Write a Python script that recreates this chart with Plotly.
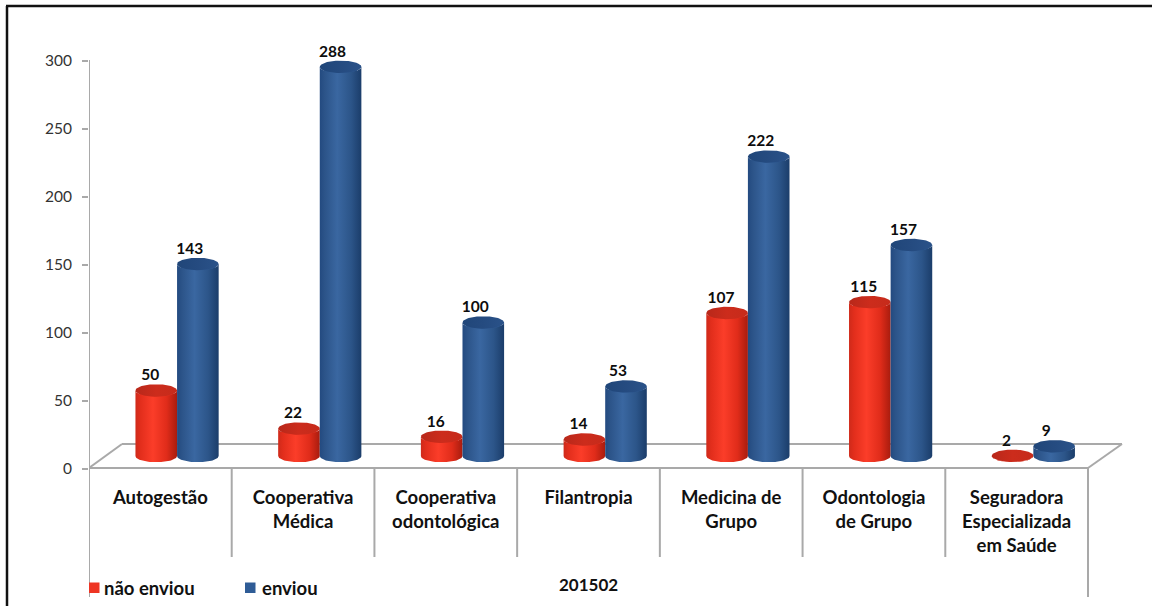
import numpy as np
import plotly.graph_objects as go

categories = ["Autogestão", "Cooperativa<br>Médica", "Cooperativa<br>odontológica",
              "Filantropia", "Medicina de<br>Grupo", "Odontologia<br>de Grupo",
              "Seguradora<br>Especializada<br>em Saúde"]
nao_enviou = [50, 22, 16, 14, 107, 115, 2]
enviou = [143, 288, 100, 53, 222, 157, 9]
y_ticks = [0, 50, 100, 150, 200, 250, 300]
group_label = "201502"
legend_names = ["não enviou", "enviou"]

W, H = 1152, 606
L, R, T, B = 89, 1130, 30, 597      # plot area in page pixels
Y0_PX = 469
PX_PER_UNIT = 408 / 300
CAT_PX = (1088 - L) / 7
xu = lambda px: px / CAT_PX                 # pixels -> x units (length)
yu = lambda px: px / PX_PER_UNIT            # pixels -> y units (length)
x_of = lambda px: (px - L) / CAT_PX         # page px -> x value
y_of = lambda px: (Y0_PX - px) / PX_PER_UNIT
px_x = lambda px: (px - L) / (R - L)
px_y = lambda px: (B - px) / (B - T)

BASE = yu(10.5)           # 3D floor lift of the cylinder tops
FOOT = yu(13)             # 3D floor lift of the cylinder feet
CAP = yu(6.2)             # half height of the ellipses
HALF = xu(20.8)           # half width of a cylinder
OFFS = {"red": xu(-4.1), "blue": xu(37.5)}
RED = "#e8301f"
BLUE = "#2f5c96"
RED_BODY = [[0, "#cf2a1a"], [0.12, "#e22e1c"], [0.42, "#fb3d29"], [0.75, "#e02c1a"], [1, "#a81c0e"]]
BLUE_BODY = [[0, "#234a80"], [0.12, "#2c5489"], [0.42, "#3a67a1"], [0.75, "#2c5589"], [1, "#1b3d6a"]]
RED_CAP = [[0, "#b8281a"], [0.5, "#cc2c1c"], [1, "#c62b1b"]]
BLUE_CAP = [[0, "#204679"], [0.5, "#254b80"], [1, "#2a5289"]]

xpos = np.arange(len(categories)) + 0.5
fig = go.Figure()

for name, vals, col, key in [(legend_names[0], nao_enviou, RED, "red"), (legend_names[1], enviou, BLUE, "blue")]:
    fig.add_trace(go.Bar(x=xpos + OFFS[key], y=vals, base=[BASE] * len(vals), width=2 * HALF * 0.8,
                         name=name, marker=dict(color=col, line_width=0), showlegend=False))

t = np.linspace(0, np.pi, 41)
def cylinder(cx, v, body, cap):
    top = BASE + v
    # body: lower half of the foot ellipse, then lower half of the top ellipse
    xs = np.r_[cx - HALF * np.cos(t), cx + HALF * np.cos(t)]
    ys = np.r_[FOOT - CAP * np.sin(t), top - CAP * np.sin(t)]
    fig.add_trace(go.Scatter(x=xs, y=ys, mode="lines", fill="toself", line=dict(width=0),
                             fillgradient=dict(type="horizontal", colorscale=body, start=cx - HALF, stop=cx + HALF),
                             hoverinfo="skip", showlegend=False))
    tt = np.linspace(0, 2 * np.pi, 81)
    fig.add_trace(go.Scatter(x=cx + HALF * np.cos(tt), y=top + CAP * np.sin(tt), mode="lines", fill="toself",
                             line=dict(width=0),
                             fillgradient=dict(type="horizontal", colorscale=cap, start=cx - HALF, stop=cx + HALF),
                             hoverinfo="skip", showlegend=False))

for i, v in enumerate(nao_enviou):
    cylinder(xpos[i] + OFFS["red"], v, RED_BODY, RED_CAP)
for i, v in enumerate(enviou):
    cylinder(xpos[i] + OFFS["blue"], v, BLUE_BODY, BLUE_CAP)

LABEL_LIFT = yu(14)
for vals, key, dx in [(nao_enviou, "red", -6), (enviou, "blue", -8)]:
    fig.add_trace(go.Scatter(x=xpos + OFFS[key] + xu(dx), y=[v + BASE + LABEL_LIFT for v in vals],
                             mode="text", text=[str(v) for v in vals], textposition="middle center",
                             textfont=dict(family="Lato", size=15.5, color="#0d0d0d", weight="bold"),
                             hoverinfo="skip", showlegend=False))

GREY = "#a9a9a9"
shapes = []
def line(x0, y0, x1, y1, w=2):
    shapes.append(dict(type="line", xref="x", yref="y", x0=x_of(x0), y0=y_of(y0), x1=x_of(x1), y1=y_of(y1),
                       line=dict(color=GREY, width=w), layer="below"))
# value axis line
line(89, 60, 89, 597)
# 3D floor
line(89, 468, 1088, 468)
line(89, 468, 122, 444)
line(122, 444, 1122, 444)
line(1122, 444, 1088, 468)
# category separators
for k in range(1, 7):
    line(L + k * CAT_PX, 468, L + k * CAT_PX, 557)
line(1088, 468, 1088, 597)

# page border (top and left only)
shapes.append(dict(type="line", xref="paper", yref="paper", x0=px_x(7), x1=px_x(7), y0=px_y(6), y1=px_y(606),
                   line=dict(color="#111111", width=2.5)))
shapes.append(dict(type="line", xref="paper", yref="paper", x0=px_x(6), x1=px_x(1152), y0=px_y(6), y1=px_y(6),
                   line=dict(color="#111111", width=2.5)))

# legend squares
for x0, col in [(89, "#ee3524"), (245, BLUE)]:
    shapes.append(dict(type="rect", xref="paper", yref="paper", x0=px_x(x0), x1=px_x(x0 + 10.5),
                       y0=px_y(593), y1=px_y(582.5), fillcolor=col, line_width=0))

fnt = dict(family="Lato", size=18.5, color="#111111", weight="bold")
annotations = [
    dict(xref="paper", yref="paper", x=px_x(104), y=px_y(587.5), text=legend_names[0], showarrow=False,
         xanchor="left", yanchor="middle", xshift=-2, font=fnt),
    dict(xref="paper", yref="paper", x=px_x(261), y=px_y(587.5), text=legend_names[1], showarrow=False,
         xanchor="left", yanchor="middle", xshift=-1, font=fnt),
    dict(xref="paper", yref="paper", x=px_x(588), y=px_y(584.5), text=group_label, showarrow=False,
         xanchor="center", yanchor="middle", font=dict(family="Lato", size=17, color="#111111", weight="bold")),
]

fig.update_layout(
    width=W, height=H, autosize=False, barmode="overlay", bargap=0,
    margin=dict(l=L, r=W - R, t=T, b=H - B, pad=0),
    paper_bgcolor="white", plot_bgcolor="white", showlegend=False,
    shapes=shapes, annotations=annotations,
    xaxis=dict(range=[0, (R - L) / CAT_PX], tickmode="array", tickvals=xpos, ticktext=categories,
               anchor="free", position=(B - Y0_PX) / (B - T), showline=False, showgrid=False, zeroline=False,
               ticks="outside", ticklen=12, tickwidth=1, tickcolor="rgba(0,0,0,0)",
               tickfont=dict(family="Lato", size=18.5, color="#111111", weight="bold"), tickangle=0),
    yaxis=dict(range=[y_of(B), y_of(T)], tickmode="array", tickvals=y_ticks, showgrid=False, zeroline=False,
               showline=False, ticks="outside", ticklen=6, tickwidth=2, tickcolor=GREY,
               ticklabelstandoff=7, tickfont=dict(family="Lato", size=15.5, color="#333333")),
)
fig.write_html("out.html", config=dict(displayModeBar=False),
               post_script="document.body.style.margin='0';document.body.style.overflow='hidden';")
